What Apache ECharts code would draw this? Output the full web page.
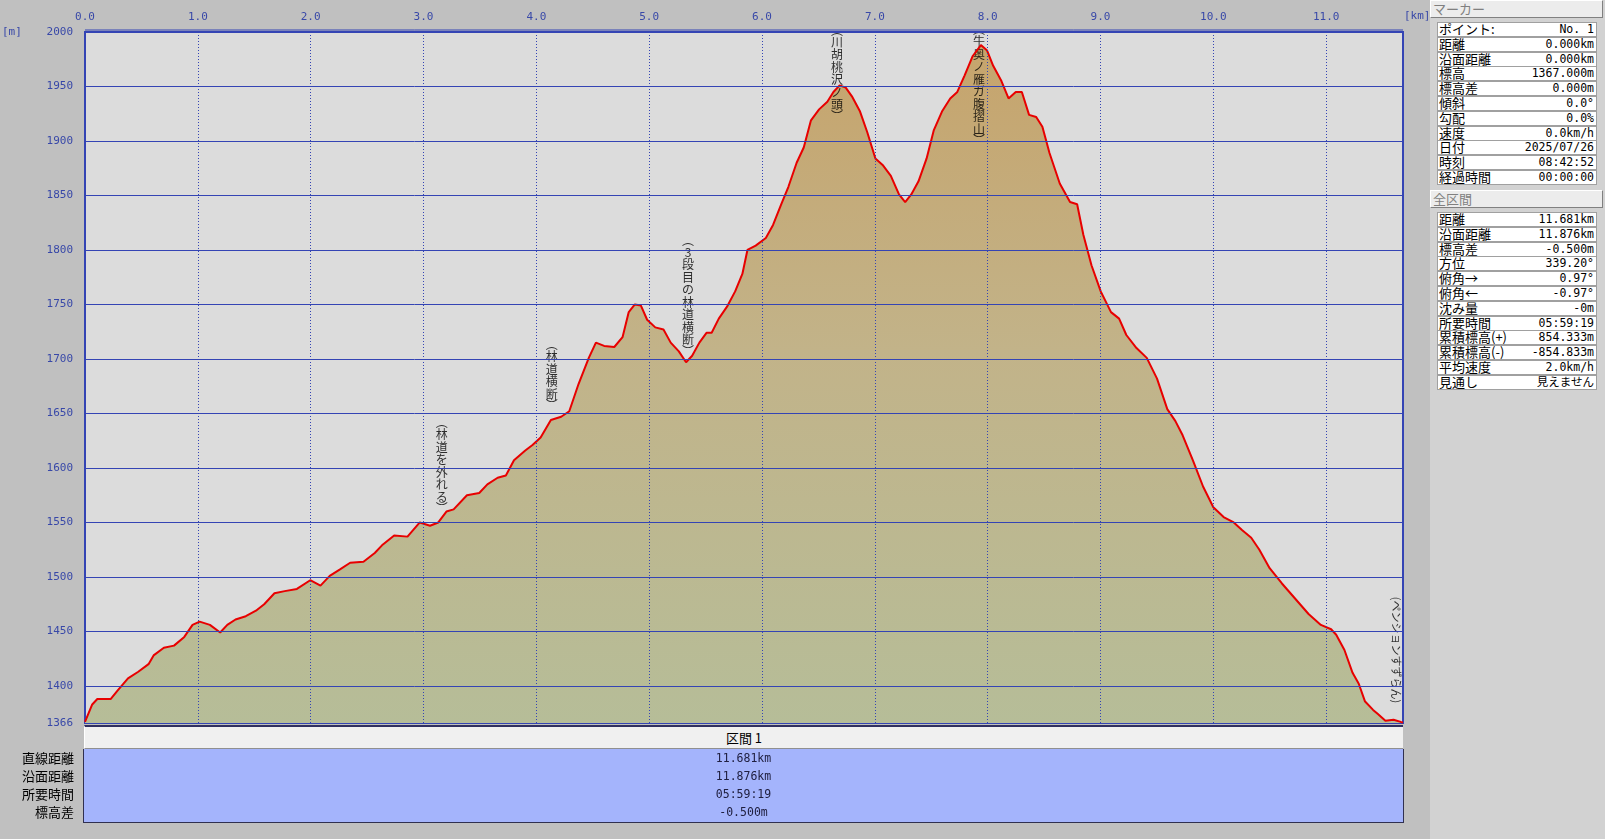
<!DOCTYPE html>
<html><head><meta charset="utf-8">
<script src="https://cdn.jsdelivr.net/npm/echarts@6/dist/echarts.min.js"></script>
<style>
html,body{margin:0;padding:0;background:#c0c0c0;width:1605px;height:839px;overflow:hidden;}
#chart{position:absolute;left:0;top:0;width:1605px;height:839px;}
.ab{position:absolute;}
.hdr{background:#ececec;border-top:1px solid #fff;border-left:1px solid #fff;border-right:1px solid #808080;border-bottom:1px solid #808080;box-sizing:border-box;color:#808080;font-family:'Noto Sans CJK JP',sans-serif;font-size:13px;line-height:16px;padding-left:2px;}
.row{position:absolute;left:0;width:160px;height:15px;background:#fff;border:1px solid #a0a0a0;box-sizing:border-box;}
.row .l{position:absolute;left:1px;top:-2px;font-family:'Noto Sans CJK JP',sans-serif;font-size:13px;line-height:16px;}
.row .v{position:absolute;right:2px;top:-1px;font-family:'DejaVu Sans Mono','Noto Sans CJK JP',monospace;font-size:11.5px;line-height:15px;}
.bl{position:absolute;text-align:right;font-family:'Noto Sans CJK JP',sans-serif;font-size:13px;line-height:18px;}
.bv{position:absolute;left:84px;width:1319px;text-align:center;font-family:'DejaVu Sans Mono',monospace;font-size:11.5px;line-height:18px;color:#202040;}
</style>
</head><body>
<div id="chart"></div>
<div id="panel" class="ab" style="left:1430px;top:0;width:175px;height:839px;background:#d2d2d2;"></div>
<div id="bottom"></div>
<script>
// ---- data ----
const distKm = [0.000,0.064,0.109,0.227,0.290,0.381,0.472,0.563,0.608,0.699,0.789,0.880,0.953,1.016,1.107,1.198,1.261,1.334,1.425,1.515,1.588,1.679,1.770,1.878,1.996,2.087,2.169,2.260,2.350,2.468,2.568,2.632,2.740,2.858,2.967,3.058,3.131,3.203,3.267,3.385,3.494,3.566,3.657,3.730,3.802,3.902,3.966,4.038,4.129,4.220,4.292,4.374,4.465,4.528,4.601,4.691,4.764,4.819,4.873,4.927,4.982,5.054,5.127,5.191,5.263,5.327,5.381,5.445,5.508,5.554,5.617,5.690,5.762,5.826,5.871,5.944,6.034,6.098,6.171,6.234,6.307,6.370,6.434,6.506,6.579,6.633,6.688,6.742,6.797,6.869,6.933,7.005,7.069,7.142,7.214,7.269,7.323,7.387,7.459,7.523,7.595,7.668,7.731,7.795,7.868,7.940,7.995,8.049,8.122,8.185,8.249,8.303,8.367,8.430,8.485,8.548,8.639,8.730,8.793,8.848,8.920,9.002,9.093,9.165,9.229,9.319,9.410,9.501,9.592,9.664,9.728,9.819,9.909,10.000,10.091,10.181,10.254,10.336,10.408,10.499,10.608,10.726,10.844,10.953,11.044,11.089,11.162,11.234,11.289,11.343,11.416,11.461,11.525,11.597,11.661,11.681];
const elevM = [1367,1383,1388,1388,1396,1407,1413,1420,1428,1435,1437,1445,1456,1459,1456,1449,1456,1461,1464,1469,1475,1485,1487,1489,1497,1492,1501,1507,1513,1514,1522,1529,1538,1537,1550,1547,1550,1560,1562,1575,1577,1585,1591,1593,1607,1616,1621,1628,1644,1647,1652,1677,1701,1715,1712,1711,1720,1743,1750,1749,1736,1729,1727,1715,1707,1697,1703,1715,1724,1724,1737,1748,1762,1778,1800,1804,1811,1823,1842,1858,1880,1894,1919,1929,1936,1945,1951,1949,1941,1927,1908,1884,1878,1868,1851,1844,1851,1863,1884,1910,1927,1939,1945,1960,1978,1988,1983,1969,1955,1939,1945,1945,1924,1922,1913,1889,1861,1844,1842,1814,1786,1762,1743,1737,1722,1710,1701,1682,1654,1643,1630,1607,1583,1564,1555,1550,1543,1536,1525,1508,1494,1480,1466,1456,1452,1447,1433,1412,1402,1386,1378,1374,1368,1369,1367,1366.5];
const yTickValues = [1366,1400,1450,1500,1550,1600,1650,1700,1750,1800,1850,1900,1950,2000];
const yGridValues = [1400,1450,1500,1550,1600,1650,1700,1750,1800,1850,1900,1950,2000];
const xGridValues = [1,2,3,4,5,6,7,8,9,10,11];
const totalKm = 11.681;
const annText = ['林道を外れる','林道横断','3段目の林道横断','川胡桃沢ノ頭','牛奥ノ雁ガ腹摺山','ペンションすずらん'];
const annKm   = [3.161, 4.136, 5.345, 6.665, 7.923, 11.620];
const annElev = [1602, 1685, 1758, 1962, 1951, 1433];
const annRotated = [false,false,false,false,false,true];

const markerRows = [['ポイント:','No. 1'],['距離','0.000km'],['沿面距離','0.000km'],['標高','1367.000m'],['標高差','0.000m'],['傾斜','0.0°'],['勾配','0.0%'],['速度','0.0km/h'],['日付','2025/07/26'],['時刻','08:42:52'],['経過時間','00:00:00']];
const totalRows = [['距離','11.681km'],['沿面距離','11.876km'],['標高差','-0.500m'],['方位','339.20°'],['俯角→','0.97°'],['俯角←','-0.97°'],['沈み量','-0m'],['所要時間','05:59:19'],['累積標高(+)','854.333m'],['累積標高(-)','-854.833m'],['平均速度','2.0km/h'],['見通し','見えません']];
const sectionLabels = ['直線距離','沿面距離','所要時間','標高差'];
const sectionValues = ['11.681km','11.876km','05:59:19','-0.500m'];

// ---- side panel ----
const panel = document.getElementById('panel');
function addHeader(text, top){
  const d = document.createElement('div'); d.className='hdr ab';
  d.style.left='0px'; d.style.top=top+'px'; d.style.width='173px'; d.style.height='18px';
  d.textContent = text; panel.appendChild(d);
}
function addTable(rows, top){
  const t = document.createElement('div'); t.className='ab';
  t.style.left='7px'; t.style.top=top+'px'; t.style.width='160px';
  rows.forEach((r,i)=>{
    const row = document.createElement('div'); row.className='row';
    row.style.top=(i*14.8)+'px';
    row.innerHTML = '<span class="l"></span><span class="v"></span>';
    row.children[0].textContent=r[0]; row.children[1].textContent=r[1];
    t.appendChild(row);
  });
  panel.appendChild(t);
}
addHeader('マーカー', 0);
addTable(markerRows, 22);
addHeader('全区間', 190);
addTable(totalRows, 212);

// ---- bottom section table ----
const bottom = document.getElementById('bottom');
let html = '<div class="ab" style="left:84px;top:725px;width:1319px;height:24px;background:#f0f0f0;border-top:2px solid #303060;border-left:1px solid #fff;border-bottom:1px solid #909090;box-sizing:border-box;text-align:center;font-family:\'Noto Sans CJK JP\',sans-serif;font-size:13px;line-height:21px;">区間 1</div>';
html += '<div class="ab" style="left:83px;top:749px;width:1321px;height:74px;background:#a4b4fc;border:1px solid #303050;border-top:none;box-sizing:border-box;"></div>';
sectionLabels.forEach((s,i)=>{
  const y = 749 + i*18;
  html += '<div class="bl" style="top:'+y+'px;left:-6px;width:80px;">'+s+'</div>';
  html += '<div class="bv" style="top:'+y+'px;">'+sectionValues[i]+'</div>';
});
bottom.innerHTML = html;

// ---- chart ----
const chart = echarts.init(document.getElementById('chart'), null, {renderer:'canvas'});
const pts = distKm.map((d,i)=>[d, elevM[i]]);
const blue = '#3444b4';
function vertText(s){
  const lines = ['{p|︵}'];
  for (const ch of s) lines.push('{k|'+ch+'}');
  lines.push('{p|︶}');
  return lines.join('\n');
}
const annData = annText.map((t,i)=>({
  value:[annKm[i], annElev[i]],
  label: annRotated[i]
    ? {formatter:'('+t+')', rotate:-90, fontSize:11, fontFamily:'Noto Sans CJK JP'}
    : {formatter: vertText(t)}
}));
const markData = yGridValues.map(v=>({yAxis:v, lineStyle:{color:blue, width:1, type:'solid'}}))
  .concat(xGridValues.map(v=>({xAxis:v, lineStyle:{color:blue, width:1, type:[1,2]}})));

chart.setOption({
  backgroundColor:'#c0c0c0',
  animation:false,
  grid:{left:85, top:32, width:1318, height:691, show:true, backgroundColor:'#dcdcdc', borderColor:blue, borderWidth:2},
  xAxis:{type:'value', position:'top', min:0, max:totalKm, interval:1,
    axisLine:{show:false}, axisTick:{show:false}, splitLine:{show:false},
    axisLabel:{color:'#3848a8', fontFamily:'DejaVu Sans Mono', fontSize:11, margin:9, showMaxLabel:false,
      formatter:v=>v.toFixed(1)}},
  yAxis:{type:'value', min:1366, max:2000,
    axisLine:{show:false}, axisTick:{show:false}, splitLine:{show:false},
    axisLabel:{color:'#3848a8', fontFamily:'DejaVu Sans Mono', fontSize:11, margin:12, customValues:yTickValues,
      formatter:v=>String(v)}},
  graphic:[
    {type:'text', left:2, top:27, style:{text:'[m]', fill:'#3848a8', font:'11px "DejaVu Sans Mono"'}},
    {type:'text', left:1404, top:11, style:{text:'[km]', fill:'#3848a8', font:'11px "DejaVu Sans Mono"'}},
    {type:'line', shape:{x1:85, y1:30, x2:1403, y2:30}, style:{stroke:blue, lineWidth:1}}
  ],
  series:[
    {type:'line', name:'fill', data:pts, symbol:'none', z:1, silent:true,
      lineStyle:{width:0},
      areaStyle:{opacity:1, color:new echarts.graphic.LinearGradient(0,0,0,1,[
        {offset:0, color:'#c6a46c'},{offset:0.45, color:'#c2b389'},{offset:1, color:'#b6bd98'}])}},
    {type:'scatter', name:'ann', data:annData, symbolSize:0, z:2, silent:true,
      label:{show:true, position:'inside', color:'#000', fontFamily:'Noto Sans CJK JP', fontSize:12,
        rich:{p:{fontSize:12, lineHeight:11, fontFamily:'Noto Sans CJK JP', color:'#000'},
              k:{fontSize:12, lineHeight:12.5, fontFamily:'Noto Sans CJK JP', color:'#000'}}},
      markLine:{silent:true, symbol:'none', label:{show:false}, animation:false, data:markData}},
    {type:'line', name:'profile', data:pts, symbol:'none', z:3, silent:true,
      lineStyle:{color:'#e80000', width:2}}
  ]
});
</script>
</body></html>
